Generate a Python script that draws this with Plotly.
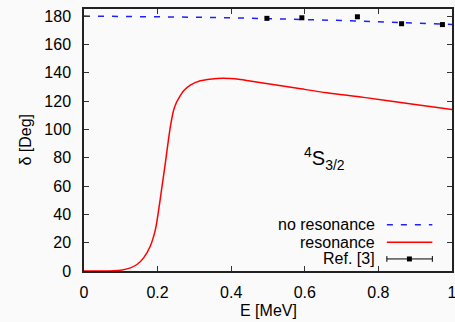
import plotly.graph_objects as go

# Phase shift of the 4S3/2 channel versus energy
E_no_res = [0.0, 0.1, 0.2, 0.3, 0.4, 0.5, 0.6, 0.7, 0.8, 0.9, 1.0]
delta_no_res = [180.0, 179.9, 179.6, 179.2, 178.8, 178.3, 177.6, 176.9, 176.0, 175.0, 174.1]

E_res = [0.0, 0.05, 0.08, 0.10, 0.126, 0.144, 0.162, 0.18, 0.194, 0.203,
         0.212, 0.221, 0.2258, 0.2347, 0.2437, 0.25, 0.2573, 0.2708, 0.289, 0.316,
         0.3615, 0.3976, 0.425, 0.50, 0.58, 0.66, 0.76, 0.88, 1.0]
delta_res = [0.0, 0.0, 0.2, 0.6, 2.2, 4.6, 9.3, 17.5, 29.2, 43.3,
             59.7, 76.1, 85.5, 101.9, 113.7, 118.3, 121.9, 127.3, 131.3, 134.3,
             136.0, 136.0, 135.3, 132.2, 129.0, 125.8, 122.6, 118.3, 114.0]

E_ref = [0.497, 0.592, 0.743, 0.863, 0.974]
delta_ref = [178.4, 178.8, 179.5, 174.6, 174.0]

x_ticks = [0, 0.2, 0.4, 0.6, 0.8, 1]
x_tick_labels = ["0", "0.2", "0.4", "0.6", "0.8", "1"]
y_ticks = [0, 20, 40, 60, 80, 100, 120, 140, 160, 180]

legend_labels = ["no resonance", "resonance", "Ref. [3]"]

FONT = "Liberation Sans, Arial, Helvetica, sans-serif"
BG = "#fafafa"

fig = go.Figure()
fig.add_trace(go.Scatter(x=E_no_res, y=delta_no_res, mode="lines",
                         line=dict(color="#2020ff", width=1.5, dash="6px,8px"),
                         showlegend=False))
fig.add_trace(go.Scatter(x=E_res, y=delta_res, mode="lines",
                         line=dict(color="#ff0000", width=1.5, shape="spline", smoothing=0.8),
                         showlegend=False))
fig.add_trace(go.Scatter(x=E_ref, y=delta_ref, mode="markers",
                         marker=dict(symbol="square", size=5, color="black"),
                         showlegend=False))

# Key drawn in gnuplot style: label text right-aligned, sample to its right
key_x_text = 0.796
key_x0, key_x1 = 0.823, 0.9466
key_y = [0.177, 0.110, 0.046]
annotations = []
for lab, yy in zip(legend_labels, key_y):
    annotations.append(dict(x=key_x_text, y=yy, xref="paper", yref="paper",
                            text=lab, showarrow=False, xanchor="right", yanchor="middle",
                            font=dict(family=FONT, size=16, color="black")))
shapes = [
    dict(type="line", xref="paper", yref="paper", x0=key_x0, x1=key_x1, y0=key_y[0], y1=key_y[0],
         line=dict(color="#2020ff", width=1.5, dash="6px,8px")),
    dict(type="line", xref="paper", yref="paper", x0=key_x0, x1=key_x1, y0=key_y[1], y1=key_y[1],
         line=dict(color="#ff0000", width=1.5)),
    dict(type="line", xref="paper", yref="paper", x0=key_x0, x1=key_x1, y0=key_y[2], y1=key_y[2],
         line=dict(color="black", width=1)),
    dict(type="line", xref="paper", yref="paper", x0=key_x0, x1=key_x0, y0=key_y[2] - 0.011, y1=key_y[2] + 0.011,
         line=dict(color="black", width=1)),
    dict(type="line", xref="paper", yref="paper", x0=key_x1, x1=key_x1, y0=key_y[2] - 0.011, y1=key_y[2] + 0.011,
         line=dict(color="black", width=1)),
    dict(type="rect", xref="paper", yref="paper", x0=0.8775, x1=0.891, y0=key_y[2] - 0.0095, y1=key_y[2] + 0.0095,
         line=dict(width=0), fillcolor="black"),
]

annotations.append(dict(x=0.654, y=0.43, xref="paper", yref="paper",
                        text="<sup>4</sup>S<sub>3/2</sub>", showarrow=False,
                        font=dict(family=FONT, size=20, color="black")))
annotations.append(dict(x=-0.19, y=0.5, xref="paper", yref="paper", text="δ [Deg]",
                        textangle=-90, showarrow=False,
                        font=dict(family=FONT, size=16, color="black")))
annotations.append(dict(x=0.5, y=-0.152, xref="paper", yref="paper", text="E [MeV]",
                        showarrow=False, yanchor="middle",
                        font=dict(family=FONT, size=16, color="black")))

axis_common = dict(showline=True, linecolor="#222222", linewidth=1.5, mirror="ticks",
                   ticks="inside", ticklen=5, tickwidth=1, tickcolor="#333333",
                   showgrid=False, zeroline=False, ticklabeloverflow="allow",
                   tickfont=dict(family=FONT, size=16, color="black"))

fig.update_layout(
    width=455, height=322,
    margin=dict(l=83.5, r=3, t=8.7, b=50.5, autoexpand=False),
    paper_bgcolor=BG, plot_bgcolor=BG,
    xaxis=dict(range=[0, 1], tickmode="array", tickvals=x_ticks, ticktext=x_tick_labels,
               ticklabelstandoff=6, **axis_common),
    yaxis=dict(range=[0, 185], tickmode="array", tickvals=y_ticks,
               ticklabelstandoff=8, **axis_common),
    annotations=annotations, shapes=shapes, showlegend=False,
)

fig.write_html("out.html")
